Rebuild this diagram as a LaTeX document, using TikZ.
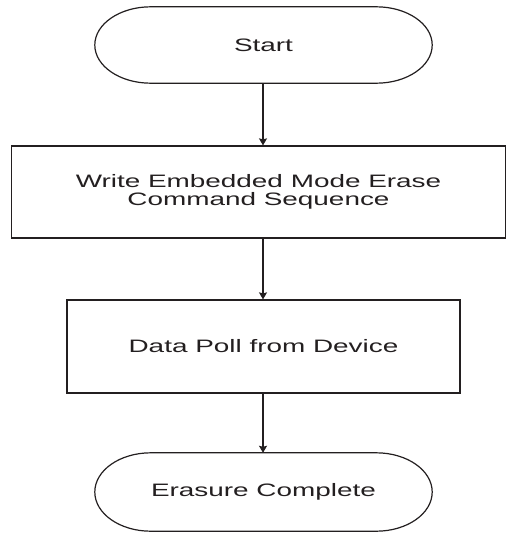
\documentclass[tikz,border=0pt]{standalone}
\usepackage{fontspec}
\newfontfamily\widefont[FakeStretch=1.55]{Liberation Sans}
\usetikzlibrary{calc,arrows.meta}
\definecolor{ink}{HTML}{231F20}
\tikzset{
  line/.style={draw=ink,line width=1.2pt},
  box/.style={line,rectangle,inner sep=0pt,align=center,text=ink,
    font=\widefont\fontsize{18}{17.5}\selectfont},
  term/.style={rectangle,inner sep=0pt,align=center,text=ink,
    font=\widefont\fontsize{18}{17.5}\selectfont},
  flow/.style={line,-{Stealth[length=7pt,width=8pt,inset=1pt]}}
}
\newcommand{\stadiumoutline}[2]{%
  \draw[line] let \p1=(#1.north), \p2=(#1.south), \n1={(\y1-\y2)/2} in
    ($(#1.north west)+(#2,0)$) -- ($(#1.north east)+(-#2,0)$)
    arc[start angle=90,end angle=-90,x radius=#2,y radius=\n1]
    -- ($(#1.south west)+(#2,0)$)
    arc[start angle=270,end angle=90,x radius=#2,y radius=\n1] -- cycle;}
\begin{document}
\begin{tikzpicture}[x=1pt,y=1pt]
\useasboundingbox (0,0) rectangle (506,-533);
\node[term,minimum width=337pt,minimum height=76pt] (start) at (263.5,-45) {Start};
\stadiumoutline{start}{56pt}
\node[box,minimum width=494pt,minimum height=92pt] (write) at (258.5,-192)
  {Write Embedded Mode Erase\\Command Sequence};
\node[box,minimum width=393pt,minimum height=93pt] (poll) at (263.5,-346.5)
  {Data Poll from Device};
\node[term,minimum width=337pt,minimum height=78pt] (done) at (263.5,-492) {Erasure Complete};
\stadiumoutline{done}{56pt}
\draw[flow] (start.south -| 263,0) -- (write.north -| 263,0);
\draw[flow] (write.south -| 263,0) -- (poll.north -| 263,0);
\draw[flow] (poll.south -| 263,0) -- (done.north -| 263,0);
\end{tikzpicture}
\end{document}
